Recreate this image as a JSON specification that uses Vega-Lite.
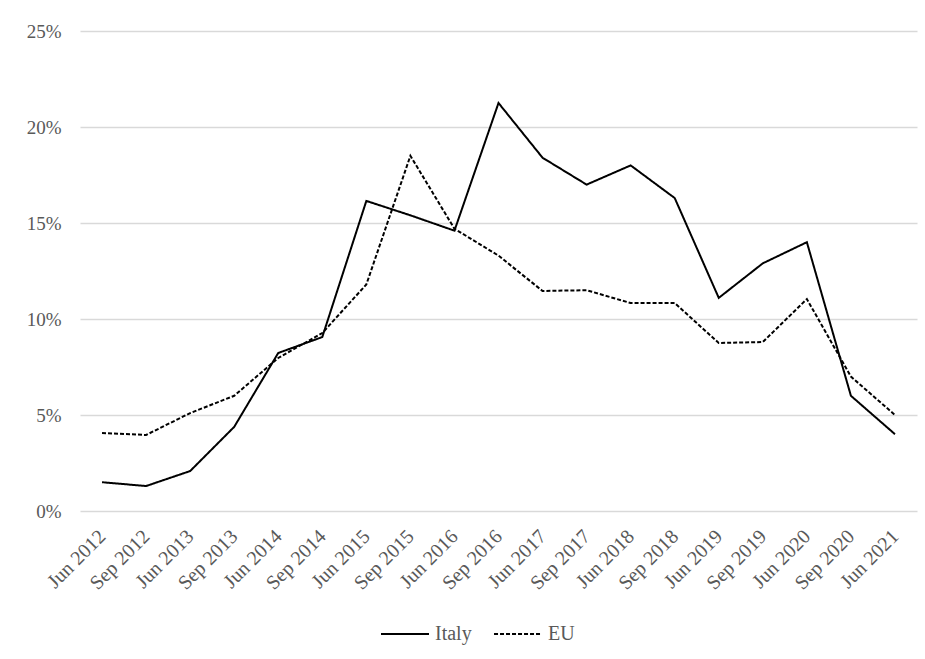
{
  "$schema": "https://vega.github.io/schema/vega-lite/v6.json",
  "width": 837,
  "height": 480,
  "padding": {"left": 80, "top": 31, "right": 8, "bottom": 148},
  "autosize": {"type": "none"},
  "background": "white",
  "config": {
    "font": "Liberation Serif",
    "view": {"stroke": null},
    "axis": {"labelFont": "Liberation Serif", "labelColor": "#595959", "labelFontSize": 19},
    "legend": {"labelFont": "Liberation Serif", "labelColor": "#595959", "labelFontSize": 20}
  },
  "data": {"values": [
    {"period": "Jun 2012", "series": "Italy", "value": 1.5},
    {"period": "Sep 2012", "series": "Italy", "value": 1.3},
    {"period": "Jun 2013", "series": "Italy", "value": 2.08},
    {"period": "Sep 2013", "series": "Italy", "value": 4.38},
    {"period": "Jun 2014", "series": "Italy", "value": 8.23},
    {"period": "Sep 2014", "series": "Italy", "value": 9.06},
    {"period": "Jun 2015", "series": "Italy", "value": 16.15},
    {"period": "Sep 2015", "series": "Italy", "value": 15.4},
    {"period": "Jun 2016", "series": "Italy", "value": 14.6},
    {"period": "Sep 2016", "series": "Italy", "value": 21.25},
    {"period": "Jun 2017", "series": "Italy", "value": 18.4},
    {"period": "Sep 2017", "series": "Italy", "value": 17.0},
    {"period": "Jun 2018", "series": "Italy", "value": 18.0},
    {"period": "Sep 2018", "series": "Italy", "value": 16.3},
    {"period": "Jun 2019", "series": "Italy", "value": 11.1},
    {"period": "Sep 2019", "series": "Italy", "value": 12.9},
    {"period": "Jun 2020", "series": "Italy", "value": 14.0},
    {"period": "Sep 2020", "series": "Italy", "value": 6.0},
    {"period": "Jun 2021", "series": "Italy", "value": 4.0},
    {"period": "Jun 2012", "series": "EU", "value": 4.06},
    {"period": "Sep 2012", "series": "EU", "value": 3.96},
    {"period": "Jun 2013", "series": "EU", "value": 5.1},
    {"period": "Sep 2013", "series": "EU", "value": 6.0},
    {"period": "Jun 2014", "series": "EU", "value": 7.97},
    {"period": "Sep 2014", "series": "EU", "value": 9.27},
    {"period": "Jun 2015", "series": "EU", "value": 11.8},
    {"period": "Sep 2015", "series": "EU", "value": 18.5},
    {"period": "Jun 2016", "series": "EU", "value": 14.7},
    {"period": "Sep 2016", "series": "EU", "value": 13.3},
    {"period": "Jun 2017", "series": "EU", "value": 11.46},
    {"period": "Sep 2017", "series": "EU", "value": 11.5},
    {"period": "Jun 2018", "series": "EU", "value": 10.83},
    {"period": "Sep 2018", "series": "EU", "value": 10.83},
    {"period": "Jun 2019", "series": "EU", "value": 8.75},
    {"period": "Sep 2019", "series": "EU", "value": 8.8},
    {"period": "Jun 2020", "series": "EU", "value": 11.04},
    {"period": "Sep 2020", "series": "EU", "value": 7.0},
    {"period": "Jun 2021", "series": "EU", "value": 5.0}
  ]},
  "mark": {"type": "line", "color": "black", "strokeWidth": 2},
  "encoding": {
    "x": {
      "field": "period", "type": "ordinal", "sort": null,
      "scale": {"type": "point", "padding": 0.5},
      "axis": {"title": null, "labelAngle": -45, "labelAlign": "right", "labelBaseline": "middle", "domain": false, "ticks": false, "labelPadding": 22, "labelFontSize": 20}
    },
    "y": {
      "field": "value", "type": "quantitative",
      "scale": {"domain": [0, 25], "nice": false},
      "axis": {"title": null, "values": [0, 5, 10, 15, 20, 25], "labelExpr": "datum.value + '%'", "domain": false, "ticks": false, "labelPadding": 19, "gridColor": "#d9d9d9", "gridWidth": 1.5}
    },
    "strokeDash": {
      "field": "series", "type": "nominal",
      "scale": {"domain": ["Italy", "EU"], "range": [[1, 0], [4, 2]]},
      "legend": {"title": null, "orient": "none", "legendX": 300, "legendY": 578, "direction": "horizontal", "symbolType": "stroke", "symbolSize": 2300, "symbolStrokeWidth": 2, "symbolStrokeColor": "black", "columnPadding": 18, "labelOffset": 5}
    }
  }
}
